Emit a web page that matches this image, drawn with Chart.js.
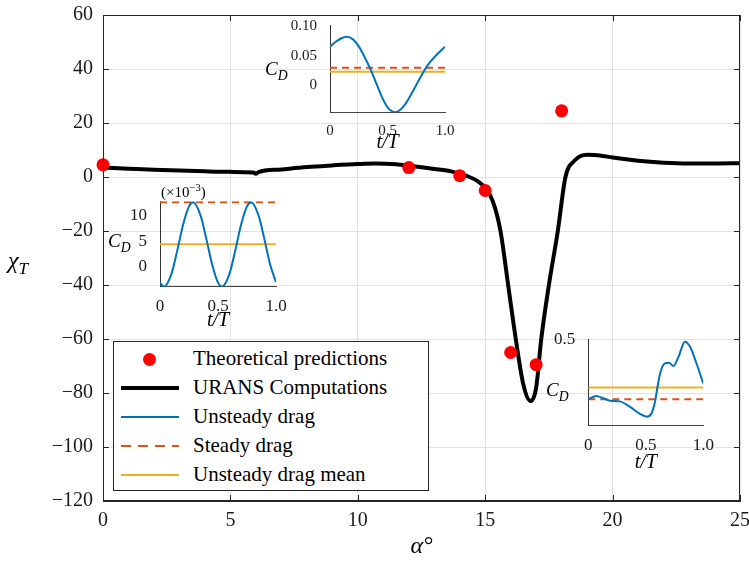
<!DOCTYPE html>
<html>
<head>
<meta charset="utf-8">
<script src="https://cdn.jsdelivr.net/npm/chart.js@4.4.1/dist/chart.umd.min.js"></script>
<style>
  body { margin: 0; background: #fff; }
  #wrap { position: relative; width: 749px; height: 561px; font-family: 'Liberation Serif', 'Times New Roman', serif; }
  canvas { position: absolute; }
  .lbl { position: absolute; font-style: italic; white-space: nowrap; color: #000; line-height: 1; }
  .lbl sub { font-size: 0.72em; vertical-align: -0.35em; line-height: 0; }
  #legend { position: absolute; left: 113px; top: 341px; width: 314px; height: 148px; border: 1px solid #262626; background: #fff; }
  .row { position: absolute; left: 0; width: 100%; height: 29px; }
  .sw { position: absolute; left: 7px; width: 58px; top: 50%; }
  .txt { position: absolute; left: 79px; top: 0; line-height: 29px; font-size: 21px; color: #000; white-space: nowrap; }
</style>
</head>
<body>
<div id="wrap">
  <canvas id="mainChart" width="749" height="561" style="left:0;top:0;width:749px;height:561px"></canvas>
  <canvas id="inset1" width="210" height="150" style="left:250px;top:10px;width:210px;height:150px"></canvas>
  <canvas id="inset2" width="200" height="150" style="left:95px;top:185px;width:200px;height:150px"></canvas>
  <canvas id="inset3" width="205" height="155" style="left:515px;top:320px;width:205px;height:155px"></canvas>

  <div class="lbl" style="left:8px;top:248px;font-size:24px">χ<sub>T</sub></div>
  <div class="lbl" style="left:265px;top:59px;font-size:19px">C<sub>D</sub></div>
  <div class="lbl" style="left:108px;top:231px;font-size:19px">C<sub>D</sub></div>
  <div class="lbl" style="left:546px;top:380px;font-size:19px">C<sub>D</sub></div>
  <div class="lbl" style="left:161px;top:183px;font-size:15px;font-style:normal">(×10<sup style="font-size:0.7em">−3</sup>)</div>

  <div id="legend">
    <div class="row" style="top:2px">
      <div class="sw" style="left:29px;width:13px;height:13px;margin-top:-6px;border-radius:50%;background:#ff0000"></div>
      <div class="txt">Theoretical predictions</div>
    </div>
    <div class="row" style="top:31px">
      <div class="sw" style="height:4px;margin-top:-2px;background:#000"></div>
      <div class="txt">URANS Computations</div>
    </div>
    <div class="row" style="top:60px">
      <div class="sw" style="height:2px;margin-top:-1px;background:#0072BD"></div>
      <div class="txt">Unsteady drag</div>
    </div>
    <div class="row" style="top:89px">
      <div class="sw" style="height:2px;margin-top:-1px;background:repeating-linear-gradient(to right,#D95319 0 10px,transparent 10px 17px)"></div>
      <div class="txt">Steady drag</div>
    </div>
    <div class="row" style="top:118px">
      <div class="sw" style="height:2px;margin-top:-1px;background:#EDB120"></div>
      <div class="txt">Unsteady drag mean</div>
    </div>
  </div>
</div>
<script>
const SERIF = "'Liberation Serif', 'Times New Roman', serif";
Chart.defaults.font.family = SERIF;
Chart.defaults.color = '#262626';
Chart.defaults.animation = false;

// main plot: URANS curve and theoretical points
const alphaUrans = [0, 1, 2, 3, 4, 5, 5.9, 6.0, 6.1, 7, 8, 9, 10, 10.7, 11.5, 12, 13, 13.7, 14.3, 14.7, 15.0, 15.3, 15.6, 15.9, 16.2, 16.5, 16.78, 17.0, 17.2, 17.5, 17.85, 18.15, 18.5, 19.0, 19.5, 20, 21, 22, 23, 24, 25];
const chiUrans = [3.5, 3.1, 2.7, 2.4, 2.1, 1.9, 1.7, 1.2, 1.8, 2.8, 3.7, 4.3, 4.8, 5.0, 4.7, 4.2, 3.0, 2.0, 0.3, -1.5, -4, -9, -20, -40, -60, -77, -83, -78, -60, -40, -20, 0, 6, 8.2, 8.0, 7.2, 6.0, 5.3, 5.0, 5.0, 5.1];
const alphaTheory = [0, 12, 14, 15, 16, 17, 18];
const chiTheory = [4.5, 3.5, 0.5, -5, -65, -69.5, 24.5];

// inset 1 (top)
const t1 = [0, 0.05, 0.1, 0.145, 0.2, 0.25, 0.3, 0.35, 0.4, 0.45, 0.5, 0.565, 0.6, 0.65, 0.7, 0.75, 0.8, 0.85, 0.9, 0.95, 1.0];
const cd1 = [0.0655, 0.074, 0.080, 0.0826, 0.078, 0.066, 0.048, 0.028, 0.004, -0.020, -0.038, -0.0467, -0.044, -0.034, -0.018, 0.000, 0.018, 0.034, 0.046, 0.056, 0.0655];
const steady1 = 0.0296, mean1 = 0.0228;

// inset 2 (left, x10^-3)
const t2 = [0, 0.035, 0.1, 0.15, 0.2, 0.25, 0.285, 0.35, 0.4, 0.45, 0.5, 0.535, 0.6, 0.65, 0.7, 0.75, 0.785, 0.85, 0.9, 0.95, 1.0];
const cd2 = [-3.1, -3.9, -1.3, 3.3, 8.3, 11.8, 12.6, 10.0, 5.4, 0.4, -3.1, -3.9, -1.3, 3.3, 8.3, 11.8, 12.6, 10.0, 5.4, 0.4, -3.0];
const steady2 = 12.6, mean2 = 4.4;

// inset 3 (bottom right)
const t3 = [0, 0.07, 0.13, 0.19, 0.275, 0.36, 0.45, 0.51, 0.55, 0.58, 0.6, 0.625, 0.665, 0.7, 0.74, 0.785, 0.84, 0.885, 0.94, 1.0];
const cd3 = [0.151, 0.171, 0.157, 0.143, 0.139, 0.108, 0.065, 0.049, 0.069, 0.137, 0.216, 0.304, 0.362, 0.366, 0.347, 0.402, 0.49, 0.46, 0.363, 0.245];
const steady3 = 0.151, mean3 = 0.22;

const BLUE = '#0072BD', ORANGE = '#D95319', YELLOW = '#EDB120';

const pts = (xs, ys) => xs.map((x, i) => ({x: x, y: ys[i]}));

// fixed axis sizes so the plot boxes land where the figure has them
const fixX = h => s => { s.height = h; s.paddingLeft = 0; s.paddingRight = 0; };
const fixY = w => s => { s.width = w; s.paddingTop = 0; s.paddingBottom = 0; };

// box + inward ticks like matlab
const boxPlugin = {
  id: 'box',
  afterDraw(chart) {
    const {ctx, chartArea: a, scales: {x, y}} = chart;
    ctx.save();
    ctx.strokeStyle = '#262626';
    ctx.lineWidth = 1;
    ctx.strokeRect(a.left + 0.5, a.top + 0.5, a.right - a.left - 1, a.bottom - a.top - 1);
    ctx.beginPath();
    x.ticks.forEach(t => {
      const px = Math.round(x.getPixelForValue(t.value)) + 0.5;
      ctx.moveTo(px, a.top); ctx.lineTo(px, a.top + 6);
      ctx.moveTo(px, a.bottom); ctx.lineTo(px, a.bottom - 6);
    });
    y.ticks.forEach(t => {
      const py = Math.round(y.getPixelForValue(t.value)) + 0.5;
      ctx.moveTo(a.left, py); ctx.lineTo(a.left + 6, py);
      ctx.moveTo(a.right, py); ctx.lineTo(a.right - 6, py);
    });
    ctx.stroke();
    ctx.restore();
  }
};

new Chart(document.getElementById('mainChart'), {
  data: {
    datasets: [{
      type: 'scatter',
      label: 'Theoretical predictions',
      data: pts(alphaTheory, chiTheory),
      backgroundColor: '#ff0000',
      borderWidth: 0,
      pointRadius: 6.5,
      clip: false,
      order: 0
    }, {
      type: 'line',
      label: 'URANS Computations',
      data: pts(alphaUrans, chiUrans),
      borderColor: '#000',
      borderWidth: 4,
      pointRadius: 0,
      cubicInterpolationMode: 'monotone',
      fill: false,
      order: 1
    }]
  },
  options: {
    responsive: false,
    layout: { padding: { top: 15, right: 9, left: 0, bottom: 0 } },
    plugins: { legend: { display: false }, tooltip: { enabled: false } },
    scales: {
      x: {
        type: 'linear', min: 0, max: 25,
        ticks: { stepSize: 5, padding: 8, color: '#1a1a1a', font: { family: SERIF, size: 20 } },
        grid: { color: '#e3e3e3', drawTicks: false },
        border: { color: '#262626' },
        title: { display: true, text: 'α°', color: '#000', font: { family: SERIF, size: 24, style: 'italic' }, padding: { top: 0, bottom: 0 } },
        afterFit: fixX(60)
      },
      y: {
        type: 'linear', min: -120, max: 60,
        ticks: { stepSize: 20, padding: 10, color: '#1a1a1a', font: { family: SERIF, size: 20 },
                 callback: v => String(v).replace('-', '−') },
        grid: { color: '#e3e3e3', drawTicks: false },
        border: { color: '#262626' },
        afterFit: fixY(103)
      }
    }
  },
  plugins: [boxPlugin]
});

function drawInset(id, o) {
  new Chart(document.getElementById(id), {
    type: 'line',
    data: {
      datasets: [{
        data: pts(o.t, o.cd), borderColor: BLUE, borderWidth: 2, pointRadius: 0,
        cubicInterpolationMode: 'monotone'
      }, {
        data: pts([0, 1], [o.steady, o.steady]), borderColor: ORANGE, borderWidth: 2,
        borderDash: [7, 5], pointRadius: 0
      }, {
        data: pts([0, 1], [o.mean, o.mean]), borderColor: YELLOW, borderWidth: 2, pointRadius: 0
      }]
    },
    options: {
      responsive: false,
      layout: { padding: o.pad },
      plugins: { legend: { display: false }, tooltip: { enabled: false } },
      scales: {
        x: {
          type: 'linear', min: 0, max: 1,
          afterBuildTicks: ax => { ax.ticks = [0, 0.5, 1].map(v => ({value: v})); },
          ticks: { padding: 2, color: '#1a1a1a', font: { family: SERIF, size: o.fs },
                   callback: v => v === 0 ? '0' : v.toFixed(1) },
          grid: { display: false },
          border: { color: '#444' },
          title: { display: true, text: 't/T', color: '#000', font: { family: SERIF, size: 20, style: 'italic' }, padding: { top: 0, bottom: o.tb } },
          afterFit: fixX(o.xh)
        },
        y: {
          type: 'linear', min: o.ymin, max: o.ymax,
          afterBuildTicks: ax => { ax.ticks = o.yticks.map(v => ({value: v})); },
          ticks: { padding: 5, color: '#1a1a1a', font: { family: SERIF, size: o.fs }, callback: o.yfmt },
          grid: { display: false },
          border: { color: '#333' },
          afterFit: fixY(o.yw)
        }
      }
    }
  });
}

drawInset('inset1', {
  t: t1, cd: cd1, steady: steady1, mean: mean1,
  ymin: -0.0467, ymax: 0.1026, yticks: [0, 0.05, 0.1],
  yfmt: v => v === 0 ? '0' : v.toFixed(2),
  pad: { top: 15, right: 15, left: 0, bottom: 0 }, yw: 80, xh: 47.7, tb: 5, fs: 15
});
drawInset('inset2', {
  t: t2, cd: cd2, steady: steady2, mean: mean2,
  ymin: -3.9, ymax: 12.8, yticks: [0, 5, 10],
  yfmt: v => String(v),
  pad: { top: 16.3, right: 19, left: 0, bottom: 0 }, yw: 65, xh: 48.3, tb: 2, fs: 17
});
drawInset('inset3', {
  t: t3, cd: cd3, steady: steady3, mean: mean3,
  ymin: 0, ymax: 0.504, yticks: [0.5],
  yfmt: v => v.toFixed(1),
  pad: { top: 19.3, right: 16.7, left: 0, bottom: 0 }, yw: 73.3, xh: 50, tb: 0, fs: 17
});
</script>
</body>
</html>
